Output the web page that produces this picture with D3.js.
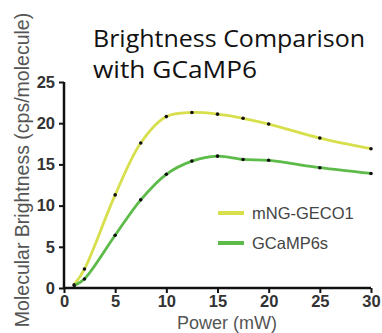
<!DOCTYPE html>
<html>
<head>
<meta charset="utf-8">
<script src="https://cdn.jsdelivr.net/npm/d3@7"></script>
<style>
  html, body { margin: 0; padding: 0; background: #fff; }
  svg { display: block; }
</style>
</head>
<body>
<svg id="chart" width="382" height="333"></svg>
<script>
// Excitation power (mW) and molecular brightness (cps/molecule)
const power = [1, 2, 5, 7.5, 10, 12.5, 15, 17.5, 20, 25, 30];
const mngGeco1 = [0.4, 2.3, 11.3, 17.6, 20.8, 21.3, 21.1, 20.6, 19.9, 18.2, 16.9];
const gcamp6s = [0.3, 1.1, 6.4, 10.7, 13.8, 15.4, 16.0, 15.6, 15.5, 14.6, 13.9];
const seriesNames = ["mNG-GECO1", "GCaMP6s"];
const seriesColors = ["#d7df4c", "#5dbb49"];
const xTicks = [0, 5, 10, 15, 20, 25, 30];
const yTicks = [0, 5, 10, 15, 20, 25];
const titleLines = ["Brightness Comparison", "with GCaMP6"];

const svg = d3.select("#chart");

const x = d3.scaleLinear().domain([0, 30]).range([64, 371]);
const y = d3.scaleLinear().domain([0, 25]).range([288, 82]);

// Axes
const xAxis = svg.append("g")
  .attr("transform", `translate(0,${y(0)})`)
  .call(d3.axisBottom(x).tickValues(xTicks).tickSize(5).tickPadding(2).tickSizeOuter(0));
const yAxis = svg.append("g")
  .attr("transform", `translate(${x(0)},0)`)
  .call(d3.axisLeft(y).tickValues(yTicks).tickSize(5).tickPadding(4).tickSizeOuter(0));

[xAxis, yAxis].forEach(g => {
  g.select(".domain").attr("stroke", "#111").attr("stroke-width", 2.5);
  g.selectAll(".tick line").attr("stroke", "#111").attr("stroke-width", 2);
  g.selectAll(".tick text")
    .attr("fill", "#333")
    .style("font-family", "'Liberation Sans', Arial, sans-serif")
    .style("font-weight", "bold")
    .style("font-size", "16.5px");
});
// domain lines extend to meet at the origin
xAxis.select(".domain").attr("d", `M${x(0) - 1},0H${x(30)}`);
yAxis.select(".domain").attr("d", `M0,${y(0) + 1}V${y(25)}`);

// Series lines
const series = [
  { name: seriesNames[0], color: seriesColors[0], values: mngGeco1 },
  { name: seriesNames[1], color: seriesColors[1], values: gcamp6s }
];

const line = d3.line()
  .x(d => x(d[0]))
  .y(d => y(d[1]))
  .curve(d3.curveCatmullRom.alpha(0.5));

series.forEach(s => {
  const pts = power.map((p, i) => [p, s.values[i]]);
  svg.append("path")
    .datum(pts)
    .attr("fill", "none")
    .attr("stroke", s.color)
    .attr("stroke-width", 2.8)
    .attr("d", line);
  svg.append("g").selectAll("circle")
    .data(pts)
    .join("circle")
    .attr("cx", d => x(d[0]))
    .attr("cy", d => y(d[1]))
    .attr("r", 1.8)
    .attr("fill", "#111");
});

// Legend
const legend = svg.append("g");
series.forEach((s, i) => {
  const ly = 213 + i * 30;
  legend.append("line")
    .attr("x1", 218).attr("x2", 244)
    .attr("y1", ly).attr("y2", ly)
    .attr("stroke", s.color)
    .attr("stroke-width", 4);
  legend.append("text")
    .attr("x", 252).attr("y", ly + 6)
    .attr("fill", "#444")
    .style("font-family", "'Liberation Sans', Arial, sans-serif")
    .style("font-size", "16.5px")
    .text(s.name);
});

// Axis titles
svg.append("text")
  .attr("x", 227)
  .attr("y", 329)
  .attr("text-anchor", "middle")
  .attr("fill", "#555")
  .style("font-family", "'Liberation Sans', Arial, sans-serif")
  .style("font-size", "18px")
  .text("Power (mW)");

svg.append("text")
  .attr("transform", "translate(29,170) rotate(-90)")
  .attr("text-anchor", "middle")
  .attr("fill", "#555")
  .style("font-family", "'Liberation Sans', Arial, sans-serif")
  .style("font-size", "19.5px")
  .text("Molecular Brightness (cps/molecule)");

// Title
const titleWidths = [272, 164];
svg.append("g").selectAll("text")
  .data(titleLines)
  .join("text")
  .attr("x", 93)
  .attr("y", (d, i) => 47 + i * 31)
  .attr("fill", "#111")
  .attr("textLength", (d, i) => titleWidths[i])
  .attr("lengthAdjust", "spacingAndGlyphs")
  .style("font-family", "'Open Sans', sans-serif")
  .style("font-size", "23.5px")
  .text(d => d);
</script>
</body>
</html>
